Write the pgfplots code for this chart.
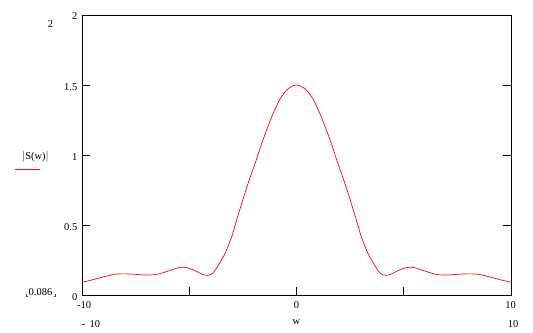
\documentclass[border=0pt]{standalone}
\usepackage{pgfplots}
\pgfplotsset{compat=1.18}
\usepackage{fontspec}
\setmainfont{Liberation Serif}
\begin{document}
\fontsize{10.5bp}{12bp}\selectfont
\begin{tikzpicture}[x=1bp,y=1bp]
\path[use as bounding box] (0,0) rectangle (533,332);
\begin{axis}[
  at={(82bp,37bp)}, anchor=south west,
  scale only axis, width=429bp, height=280bp,
  xmin=-10, xmax=10, ymin=0, ymax=2,
  axis line style={line width=0.9pt, black},
  xtick={-5,0,5}, xticklabels={},
  ytick={0.5,1,1.5}, yticklabels={},
  major tick length=8bp,
  tick style={line width=0.9pt, black},
  xtick pos=bottom, ytick pos=both,
  tick align=inside,
  clip=false,
]
\addplot[red, line width=0.7pt, smooth, tension=0.4] coordinates {
(-10,0.091) (-9.53,0.108) (-9.07,0.127) (-8.6,0.144) (-8.35,0.15) (-8.0,0.151) (-7.6,0.149) (-7.3,0.145) (-7.0,0.143) (-6.7,0.144) (-6.5,0.148) (-6.27,0.157) (-6.05,0.168) (-5.8,0.18) (-5.55,0.193) (-5.3,0.199) (-5.03,0.192) (-4.85,0.182) (-4.64,0.167) (-4.45,0.152) (-4.3,0.143) (-4.15,0.14) (-4.0,0.146) (-3.88,0.158) (-3.64,0.214) (-3.33,0.298) (-3.02,0.417) (-2.79,0.536) (-2.48,0.69) (-2.25,0.80) (-1.93,0.94) (-1.62,1.083) (-1.39,1.18) (-1.24,1.24) (-1.08,1.30) (-0.77,1.40) (-0.46,1.464) (-0.2,1.493) (0,1.5)
(0.2,1.493) (0.46,1.464) (0.77,1.40) (1.08,1.30) (1.24,1.24) (1.39,1.18) (1.62,1.083) (1.93,0.94) (2.25,0.80) (2.48,0.69) (2.79,0.536) (3.02,0.417) (3.33,0.298) (3.64,0.214) (3.88,0.158) (4.0,0.146) (4.15,0.14) (4.3,0.143) (4.45,0.152) (4.64,0.167) (4.85,0.182) (5.03,0.192) (5.3,0.199) (5.55,0.193) (5.8,0.18) (6.05,0.168) (6.27,0.157) (6.5,0.148) (6.7,0.144) (7.0,0.143) (7.3,0.145) (7.6,0.149) (8.0,0.151) (8.35,0.15) (8.6,0.144) (9.07,0.127) (9.53,0.108) (10,0.091)
};
\end{axis}
% y tick labels
\node[anchor=east, inner sep=0] at (77.5,316) {2};
\node[anchor=east, inner sep=0] at (77.5,245) {1.5};
\node[anchor=east, inner sep=0] at (77.5,175) {1};
\node[anchor=east, inner sep=0] at (77.5,105) {0.5};
\node[anchor=east, inner sep=0] at (77.5,35) {0};
% outer y limits
\node[inner sep=0] at (50.5,308) {2};
\node[inner sep=0] at (40.5,40) {0.086};
\draw[line width=0.5pt, black!70] (26,38.5) -- (26,35.5) -- (27.5,35.5);
\draw[line width=0.5pt, black!70] (55.5,38.5) -- (55.5,35.5) -- (54,35.5);
% x tick labels
\node[inner sep=0] at (84,27) {-10};
\node[inner sep=0] at (296.5,27) {0};
\node[inner sep=0] at (510.5,26.5) {10};
% outer x limits and label
\node[inner sep=0] at (91,8) {-\ \,10};
\node[inner sep=0] at (296.5,10) {w};
\node[inner sep=0] at (513,8) {10};
% y label
\node[inner sep=0] at (35.5,175) {$|$S(w)$|$};
\draw[red, line width=0.7pt] (15,163) -- (40,163);
\end{tikzpicture}
\end{document}
